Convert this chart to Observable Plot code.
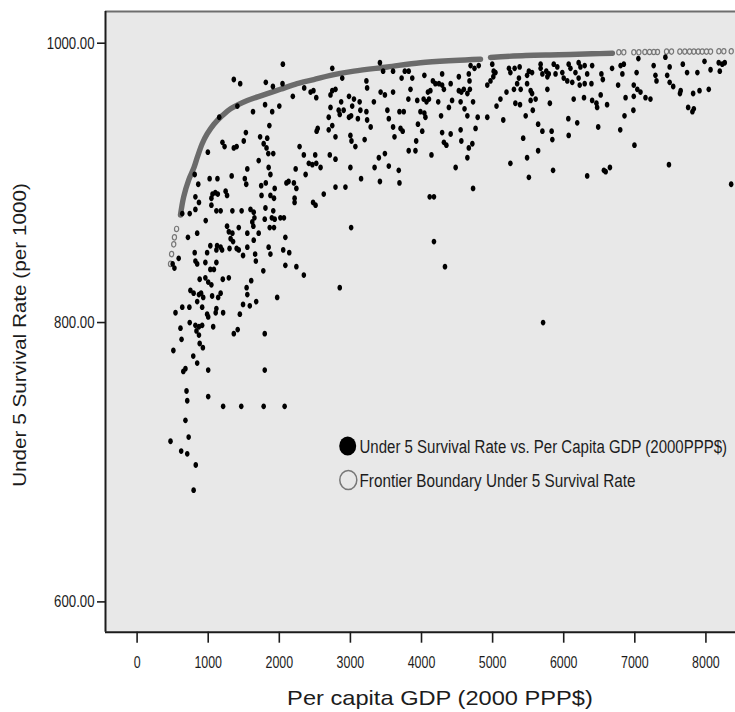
<!DOCTYPE html>
<html><head><meta charset="utf-8">
<script src="https://cdn.jsdelivr.net/npm/d3@7"></script>
<script src="https://cdn.jsdelivr.net/npm/@observablehq/plot@0.6"></script>
<style>body{margin:0;background:#fff}#chart{width:735px;height:712px}</style>
</head><body><div id="chart"></div>
<script>
// Under-5 survival rate (per 1000) vs per-capita GDP (2000 PPP$): [gdp, rate]
const survivalPoints = [
[2050,985],[1360,974],[1450,971],[1810,972],[1910,969],[2045,971],[2190,962],[2350,968],[2440,965],[2480,966],[2520,961],[1410,955],[1630,951],[1800,956],[1900,951],[2000,955],[1155,947],[1860,941],[1530,936],[1730,933],[1830,932],[1200,929],[1230,926],[1360,925],[1400,926],[1500,930],[1780,928],[1820,925],[995,922],[1845,921],[1915,921],[1710,916],[2285,926],[2345,920],[2525,937],[2540,939],[2505,920],[2415,914],[2465,913],[2520,914],[1550,910],[1850,911],[2230,910],
[1515,903],[1535,899],[1330,905],[1020,903],[1130,903],[1875,906],[1745,898],[1810,900],[1935,896],[2100,900],[2130,901],[2205,900],[2240,896],[2370,906],[860,899],[810,906],[1060,892],[1100,893],[1135,892],[1045,889],[1245,894],[1265,891],[820,890],[870,886],[1750,891],[1875,891],[1925,889],[1045,884],[1115,880],[1175,880],[820,881],[740,878],[635,878],[2215,889],[2215,886],[2475,886],[2510,884],[1340,880],[1470,880],[1805,882],[1595,881],[1640,879],[1650,875],[1915,880],[1895,875],[1935,874],[2015,875],[2065,875],[1795,874],[1865,868],[1925,868],[1620,872],[1635,869],[965,873],[1265,869],[1290,865],[1430,868],[1550,864],[1710,864],[845,864],[715,861],[2085,861],[1315,860],[1350,858],[1340,864],[1030,855],[1125,855],[1175,854],[1195,852],[1115,852],[1300,853],[1400,853],[1430,852],[1490,848],[1550,854],[1640,859],[1660,849],[1670,844],[1850,854],[1875,849],[2055,852],[2140,850],[810,850],[820,844],[845,842],[985,850],[960,843],[585,846],[1115,843],[1080,838],[1030,838],[500,842],[525,839],[2085,841],[2240,840],[2345,834],[1775,837],[880,831],[960,832],[1000,829],[1045,827],[1205,831],[1290,832],[1605,830],[1540,825],[1550,820],[750,823],[795,821],[870,820],[930,818],[900,821],[1055,819],[1175,821],[1140,818],[1970,818],[845,815],[915,811],[1490,813],[1585,812],[1675,815],[540,807],[635,811],[735,811],[985,806],[1000,804],[1105,807],[1115,810],[1210,807],[1445,806],[740,800],[820,798],[870,797],[915,798],[835,794],[610,796],[625,788],[1070,797],[1360,792],[1415,795],[1795,792],[870,791],[880,785],[925,782],[510,780],[790,776],[845,771],[680,767],[650,765],[1000,766],[1795,766],
[695,751],[705,744],[1000,747],[1210,740],[1465,740],[1780,740],[2075,740],[680,730],[725,718],[470,715],[620,708],[705,706],[825,698],[795,680],
[2745,982],[3415,986],[2885,975],[3600,980],[3460,980],[3765,980],[3820,980],[3720,975],[3870,975],[4040,977],[4290,978],[4160,973],[4195,971],[4525,976],[4665,978],[4675,973],[4690,984],[4745,982],[4805,984],[4995,985],[5015,980],[5040,979],[5230,982],[5250,979],[5310,982],[5380,983],[3225,973],[3235,968],[3600,965],[3845,967],[2745,966],[2790,967],[2720,963],[2980,962],[3050,960],[3025,955],[2870,958],[2905,952],[2850,949],[2835,952],[2720,954],[3130,958],[3140,952],[3105,946],[3330,958],[3425,965],[3485,963],[2695,947],[2745,941],[2695,938],[2980,947],[3010,948],[3225,951],[3235,945],[3285,940],[2790,933],[3000,934],[3015,930],[3070,926],[3200,931],[3520,952],[3540,946],[3600,940],[3620,933],[3690,951],[3750,951],[3705,939],[3735,937],[3815,960],[3940,959],[3950,942],[4010,937],[3985,951],[4040,950],[4055,947],[4030,960],[4070,958],[4105,960],[4090,965],[4125,966],[4245,971],[4235,958],[4290,970],[4315,967],[4410,971],[4525,966],[4560,965],[4595,967],[4645,964],[4680,967],[4385,954],[4430,959],[4550,958],[4605,953],[4645,948],[4725,958],[4275,948],[3925,930],[3915,923],[3820,923],[4290,936],[4315,929],[4350,927],[4410,935],[4550,938],[4560,930],[4760,939],[4715,928],[4665,925],[4645,918],[4790,947],[4925,947],[4925,970],[4970,973],[5010,976],[5055,955],[5110,960],[5195,965],[5300,967],[5345,971],[5370,975],[5395,967],[5320,957],[5385,956],[5150,945],[5430,932],[5250,914],[4480,911],[4140,920],[2710,920],[2790,917],[3000,911],[3150,903],[3340,911],[3400,918],[3485,921],[3540,912],[3415,901],[3680,909],[3690,900],[2790,897],[2930,897],[2580,911],[4725,896],
[5510,980],[5555,979],[5485,977],[5675,985],[5675,982],[5700,978],[5755,980],[5790,978],[5770,976],[5860,985],[5910,983],[5885,978],[5980,979],[6000,975],[6050,973],[6070,985],[6095,982],[6165,979],[6210,986],[6235,983],[6295,984],[6330,978],[6400,984],[6210,975],[6225,970],[6295,971],[6120,972],[6390,971],[6530,978],[6550,974],[6680,982],[6800,984],[6845,985],[6825,978],[6765,970],[7050,989],[7025,979],[6985,970],[7035,967],[7080,965],[7150,961],[7220,960],[7265,984],[7290,977],[7305,973],[7430,990],[7490,983],[7455,977],[7490,972],[7540,969],[7675,985],[7735,979],[7880,979],[7980,987],[8065,981],[8180,986],[8230,985],[8265,986],[8195,980],[7645,966],[7635,964],[7820,964],[7910,966],[8040,967],[7750,954],[7830,953],[7810,951],[5485,971],[5535,966],[5555,964],[5535,959],[5605,960],[5770,967],[5565,952],[5465,948],[5805,957],[6140,960],[6285,961],[6400,959],[6460,957],[6470,954],[6520,963],[6610,956],[6870,961],[6985,962],[6980,952],[6855,948],[6065,946],[6190,943],[5640,942],[5700,937],[5830,937],[5840,931],[6070,934],[6485,940],[6795,938],[6995,927],[5640,923],[5485,918],[5850,909],[5510,904],[6330,905],[6565,909],[6590,908],[6650,911],[7480,913],[8355,899],
[2625,892],[3010,868],[4115,890],[4175,890],[4175,858],[4330,840],[2850,825],[5710,800]
];

// Frontier boundary, dense part (drawn as a band), two runs
const frontierBandGdp  = [610,655,725,800,845,915,985,1080,1195,1315,1550,1780,2015,2250,2485,2720,3050,3520,3985,4455,4830, 4970,5465,5930,6400,6685];
const frontierBandRate = [877,890,902,911,918,928,935,942,948,953,959,963,967,971,974,977,980,983,986,987.6,988.5, 989.8,991.2,991.7,992.4,992.8];
const frontierBandRun  = [1,1,1,1,1,1,1,1,1,1,1,1,1,1,1,1,1,1,1,1,1, 2,2,2,2,2];
// Frontier boundary, separately visible open circles
const frontierDotGdp  = [470,485,515,525,555, 6775,6845,6986,7057,7141,7207,7267,7319,7446,7516,7633,7703,7770,7830,7892,7948,8008,8065,8182,8252,8356];
const frontierDotRate = [842,849,856,861,867, 993.5,993.5,993.5,993.5,993.7,993.7,993.7,993.7,994,994,994,994,994,994,994,994,994,994,994.2,994.2,994.2];

const xTicks = [0,1000,2000,3000,4000,5000,6000,7000,8000];
const yTicks = [600,800,1000];
const xDomain = [-444.5, 8416];
const yDomain = [578.3, 1022.7];

const xTitle = "Per capita GDP (2000 PPP$)";
const yTitle = "Under 5 Survival Rate (per 1000)";
const legendLabels = ["Under 5 Survival Rate vs. Per Capita GDP (2000PPP$)", "Frontier Boundary Under 5 Survival Rate"];

const points = survivalPoints.map(([gdp, rate]) => ({gdp, rate}));
const band = frontierBandGdp.map((g, i) => ({gdp: g, rate: frontierBandRate[i], run: frontierBandRun[i]}));
const fdots = frontierDotGdp.map((g, i) => ({gdp: g, rate: frontierDotRate[i]}));

function ellipseSymbol(rx, ry) {
  return {draw(ctx) {
    const k = 0.5523;
    ctx.moveTo(rx, 0);
    ctx.bezierCurveTo(rx, ry*k, rx*k, ry, 0, ry);
    ctx.bezierCurveTo(-rx*k, ry, -rx, ry*k, -rx, 0);
    ctx.bezierCurveTo(-rx, -ry*k, -rx*k, -ry, 0, -ry);
    ctx.bezierCurveTo(rx*k, -ry, rx, -ry*k, rx, 0);
    ctx.closePath();
  }};
}

const FONT = "'Liberation Sans', Arial, Helvetica, sans-serif";
const INK = "#1c1c1c";

const plot = Plot.plot({
  width: 735, height: 712,
  marginLeft: 105, marginRight: 0, marginTop: 11, marginBottom: 80.3,
  x: {domain: xDomain},
  y: {domain: yDomain},
  style: {fontFamily: FONT, background: "#fff", color: INK},
  marks: [
    Plot.frame({fill: "#e8e8e8", stroke: "none"}),
    Plot.line(band, {x: "gdp", y: "rate", z: "run", stroke: "#6b6b6b", strokeWidth: 5.4, strokeLinecap: "round", strokeLinejoin: "round", curve: "catmull-rom"}),
    Plot.dot(fdots, {x: "gdp", y: "rate", symbol: ellipseSymbol(2.1, 2.7), fill: "none", stroke: "#777", strokeWidth: 1.2}),
    Plot.dot(points, {x: "gdp", y: "rate", symbol: ellipseSymbol(2.3, 2.9), fill: "#000", stroke: "none"}),
    Plot.ruleY([yDomain[1]], {stroke: "#6e6e6e", strokeWidth: 2}),
    Plot.ruleY([yDomain[0]], {stroke: INK, strokeWidth: 2}),
    Plot.ruleX([xDomain[0]], {stroke: INK, strokeWidth: 2}),
    Plot.axisY({ticks: yTicks, tickSize: 8, tickPadding: 3, tickFormat: d => d.toFixed(2), fontSize: 17, strokeWidth: 1.6, label: null}),
    Plot.axisX({ticks: xTicks, tickSize: 11, tickPadding: 13, tickFormat: d => String(d), fontSize: 17, strokeWidth: 1.6, label: null})
  ]
});
document.getElementById("chart").appendChild(plot);

const svg = d3.select(plot);
svg.selectAll('g[aria-label="x-axis tick label"] text').each(function() {
  const n = this.textContent.length;
  d3.select(this).attr("textLength", n * 6.9).attr("lengthAdjust", "spacingAndGlyphs");
});
svg.selectAll('g[aria-label="y-axis tick label"] text').each(function() {
  const n = this.textContent.length - 1;
  d3.select(this).attr("textLength", n * 7.3 + 3.9).attr("lengthAdjust", "spacingAndGlyphs");
});

// helper: a text squeezed/stretched horizontally (in its own direction) to a target length
function fittedText(parent, str, {x, y, size, length, anchor = "start", rotate = 0, dy = 0}) {
  const g = parent.append("g");
  const t = g.append("text").text(str)
    .attr("font-size", size).attr("fill", INK).attr("font-family", FONT)
    .attr("text-anchor", anchor).attr("dy", dy);
  const natural = t.node().getComputedTextLength() || length;
  const s = length / natural;
  g.attr("transform", `translate(${x},${y}) rotate(${rotate}) scale(${s},1)`);
  return g;
}

// axis titles
fittedText(svg, xTitle, {x: 440, y: 705, size: 20, length: 306, anchor: "middle"});
fittedText(svg, yTitle, {x: 26, y: 335, size: 19, length: 304, anchor: "middle", rotate: -90});

// legend
const lg = svg.append("g");
lg.append("ellipse").attr("cx", 347.7).attr("cy", 446).attr("rx", 8.5).attr("ry", 9.5).attr("fill", "#000");
fittedText(lg, legendLabels[0], {x: 359.5, y: 446, size: 19, length: 368, dy: "0.35em"});
lg.append("ellipse").attr("cx", 348.3).attr("cy", 480).attr("rx", 8.5).attr("ry", 9.5).attr("fill", "none").attr("stroke", "#777").attr("stroke-width", 1.5);
fittedText(lg, legendLabels[1], {x: 359.5, y: 480, size: 19, length: 276, dy: "0.35em"});
</script>
</body></html>
